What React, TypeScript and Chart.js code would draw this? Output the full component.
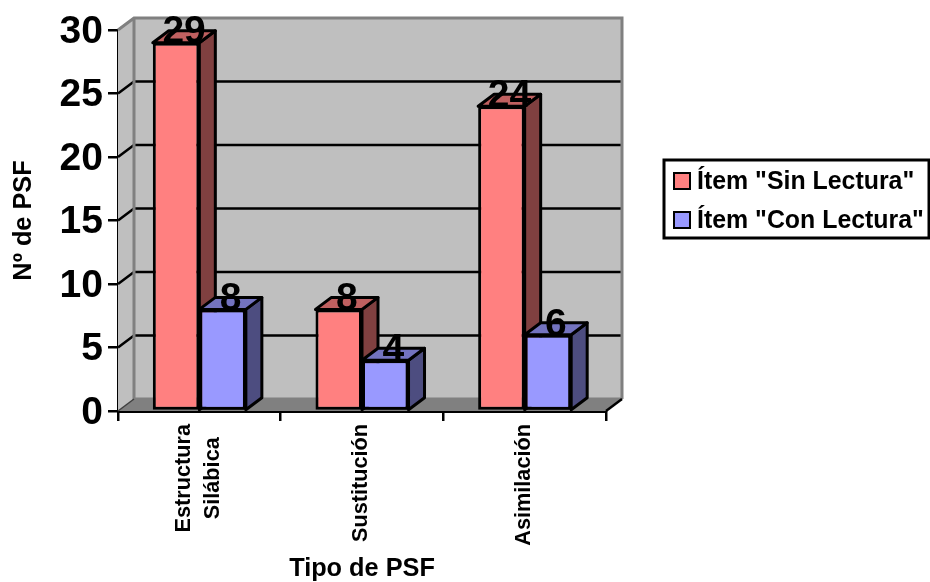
import React, { useEffect, useRef } from "react";
import { Chart, registerables } from "chart.js";

Chart.register(...registerables);

const categories = [["Estructura", "Silábica"], ["Sustitución"], ["Asimilación"]];
const sinLectura = [29, 8, 24];
const conLectura = [8, 4, 6];
const seriesNames = ['Ítem "Sin Lectura"', 'Ítem "Con Lectura"'];
const yMax = 30;
const yStep = 5;
const xTitle = "Tipo de PSF";
const yTitle = "Nº de PSF";

const FONT = '"Liberation Sans", Arial, sans-serif';
const front = ["#FF8080", "#9999FF"];
const side = ["#804040", "#4D4D80"];
const top = ["#C06060", "#7373BF"];
const DX = 16;
const DY = -12;

function drawFaces(ctx: any, meta: any, i: number) {
  ctx.save();
  ctx.strokeStyle = "#000";
  ctx.lineWidth = 3;
  ctx.lineJoin = "round";
  meta.data.forEach((bar: any) => {
    const p = bar.getProps(["x", "y", "base", "width"], true);
    const l = p.x - p.width / 2;
    const r = p.x + p.width / 2;
    ctx.fillStyle = side[i];
    ctx.beginPath();
    ctx.moveTo(r, p.base);
    ctx.lineTo(r + DX, p.base + DY);
    ctx.lineTo(r + DX, p.y + DY);
    ctx.lineTo(r, p.y);
    ctx.closePath();
    ctx.fill();
    ctx.stroke();
    ctx.fillStyle = top[i];
    ctx.beginPath();
    ctx.moveTo(l, p.y);
    ctx.lineTo(l + DX, p.y + DY);
    ctx.lineTo(r + DX, p.y + DY);
    ctx.lineTo(r, p.y);
    ctx.closePath();
    ctx.fill();
    ctx.stroke();
  });
  ctx.restore();
}

const wallPlugin = {
  id: "wall3d",
  beforeDatasetsDraw(chart: any) {
    const { ctx, chartArea: a, scales } = chart;
    const y = scales.y;
    ctx.save();
    ctx.lineJoin = "miter";
    // back + side wall
    ctx.fillStyle = "#BFBFBF";
    ctx.beginPath();
    ctx.moveTo(a.left, a.bottom);
    ctx.lineTo(a.left, a.top);
    ctx.lineTo(a.left + DX, a.top + DY);
    ctx.lineTo(a.right + DX, a.top + DY);
    ctx.lineTo(a.right + DX, a.bottom + DY);
    ctx.lineTo(a.left + DX, a.bottom + DY);
    ctx.closePath();
    ctx.fill();
    // floor
    ctx.fillStyle = "#808080";
    ctx.beginPath();
    ctx.moveTo(a.left, a.bottom);
    ctx.lineTo(a.left + DX, a.bottom + DY);
    ctx.lineTo(a.right + DX, a.bottom + DY);
    ctx.lineTo(a.right, a.bottom);
    ctx.closePath();
    ctx.fill();
    // grid
    ctx.strokeStyle = "#000";
    ctx.lineWidth = 2.5;
    for (let v = yStep; v < yMax; v += yStep) {
      const p = y.getPixelForValue(v);
      ctx.beginPath();
      ctx.moveTo(a.left, p);
      ctx.lineTo(a.left + DX, p + DY);
      ctx.lineTo(a.right + DX, p + DY);
      ctx.stroke();
    }
    // wall outlines
    ctx.strokeStyle = "#808080";
    ctx.lineWidth = 3;
    ctx.beginPath();
    ctx.moveTo(a.left, a.top);
    ctx.lineTo(a.left + DX, a.top + DY);
    ctx.lineTo(a.right + DX, a.top + DY);
    ctx.lineTo(a.right + DX, a.bottom + DY);
    ctx.moveTo(a.left + DX, a.top + DY);
    ctx.lineTo(a.left + DX, a.bottom + DY);
    ctx.lineTo(a.right + DX, a.bottom + DY);
    ctx.stroke();
    ctx.strokeStyle = "#000";
    ctx.lineWidth = 2.5;
    ctx.beginPath();
    ctx.moveTo(a.right, a.bottom);
    ctx.lineTo(a.right + DX, a.bottom + DY);
    ctx.stroke();
    ctx.strokeStyle = "#404040";
    ctx.lineWidth = 1.5;
    ctx.beginPath();
    ctx.moveTo(a.left, a.bottom);
    ctx.lineTo(a.left + DX, a.bottom + DY);
    ctx.stroke();
    ctx.restore();
  },
  afterDatasetsDraw(chart: any) {
    const { ctx, scales } = chart;
    // Chart.js paints the second series first; redo the depth order so
    // the first series' side face sits behind the second series' front.
    const m0 = chart.getDatasetMeta(0);
    const m1 = chart.getDatasetMeta(1);
    drawFaces(ctx, m0, 0);
    m1.data.forEach((bar: any) => bar.draw(ctx));
    drawFaces(ctx, m1, 1);

    ctx.save();
    // value labels
    ctx.fillStyle = "#000";
    ctx.font = `bold 39px ${FONT}`;
    ctx.textAlign = "center";
    ctx.textBaseline = "middle";
    chart.data.datasets.forEach((ds: any, i: number) => {
      chart.getDatasetMeta(i).data.forEach((bar: any, k: number) => {
        ctx.fillText(String(ds.data[k]), bar.x + DX / 2, bar.y + DY + 2);
      });
    });
    // category labels, centred lines rotated a quarter turn
    ctx.font = `bold 21.7px ${FONT}`;
    const x = scales.x;
    categories.forEach((lines, k) => {
      const widest = Math.max(...lines.map((s) => ctx.measureText(s).width));
      const cx = x.getPixelForTick(k);
      const lh = 29;
      lines.forEach((s, n) => {
        ctx.save();
        ctx.translate(cx + (n - (lines.length - 1) / 2) * lh - 0.5, 424 + widest / 2);
        ctx.rotate(-Math.PI / 2);
        ctx.fillText(s, 0, 0);
        ctx.restore();
      });
    });
    // legend
    ctx.lineWidth = 3;
    ctx.strokeStyle = "#000";
    ctx.fillStyle = "#fff";
    ctx.fillRect(664, 160, 265, 78);
    ctx.strokeRect(664, 160, 265, 78);
    ctx.font = `bold 24.9px ${FONT}`;
    ctx.textAlign = "left";
    seriesNames.forEach((name, i) => {
      const cy = 181 + i * 39;
      ctx.fillStyle = front[i];
      ctx.lineWidth = 2;
      ctx.fillRect(674, cy - 8, 16, 16);
      ctx.strokeRect(674, cy - 8, 16, 16);
      ctx.fillStyle = "#000";
      ctx.fillText(name, 697, cy + 1);
    });
    ctx.restore();
  },
};

export default function App() {
  const ref = useRef<HTMLCanvasElement>(null);
  useEffect(() => {
    const chart = new Chart(ref.current!, {
      type: "bar",
      data: {
        labels: categories.map((c) => c.join(" ")),
        datasets: [
          { label: seriesNames[0], data: sinLectura, backgroundColor: front[0] },
          { label: seriesNames[1], data: conLectura, backgroundColor: front[1] },
        ],
      },
      options: {
        animation: false,
        responsive: false,
        layout: { padding: { right: 930 - 606, top: 30, left: 0, bottom: 0 } },
        elements: { bar: { borderColor: "#000", borderWidth: 3, borderSkipped: false } },
        datasets: { bar: { categoryPercentage: 0.572, barPercentage: 1 } },
        plugins: { legend: { display: false }, tooltip: { enabled: false } },
        scales: {
          x: {
            grid: { drawOnChartArea: false, drawTicks: true, tickLength: 10, color: "#000", lineWidth: 2.5, offset: true },
            border: { color: "#000", width: 3 },
            ticks: { display: false },
            title: { display: true, text: xTitle, color: "#000", font: { family: FONT, size: 25.3, weight: "bold", lineHeight: 1 }, padding: 0 },
            afterFit: (s: any) => { s.height = 582 - 411; },
          },
          y: {
            min: 0,
            max: yMax,
            grid: { drawOnChartArea: false, drawTicks: true, tickLength: 10, color: "#000", lineWidth: 2.5 },
            border: { color: "#000", width: 3 },
            ticks: { stepSize: yStep, color: "#000", padding: 5, labelOffset: 2, font: { family: FONT, size: 39, weight: "bold" } },
            title: { display: true, text: yTitle, color: "#000", font: { family: FONT, size: 25.3, weight: "bold" }, padding: { top: 9, bottom: 0 } },
            afterFit: (s: any) => { s.width = 118; },
          },
        },
      } as any,
      plugins: [wallPlugin],
    });
    return () => chart.destroy();
  }, []);
  return (
    <div style={{ position: "fixed", left: 0, top: 0, width: 930, height: 582 }}>
      <canvas ref={ref} width={930} height={582} style={{ display: "block" }} />
    </div>
  );
}
